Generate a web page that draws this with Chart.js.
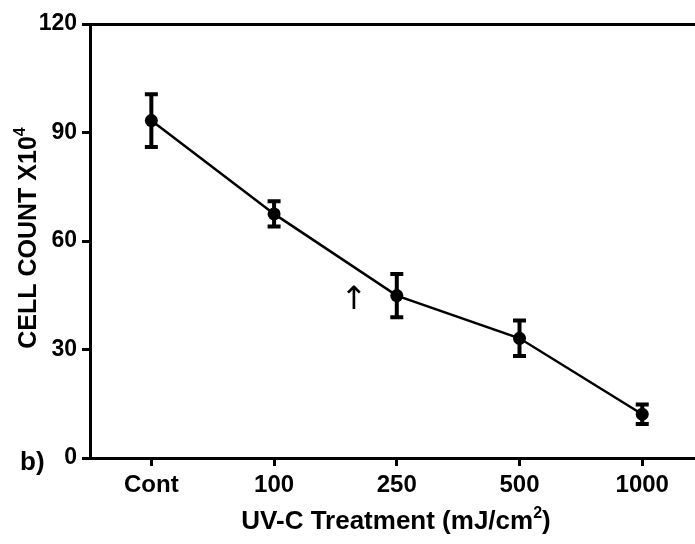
<!DOCTYPE html>
<html>
<head>
<meta charset="utf-8">
<script src="https://cdn.jsdelivr.net/npm/chart.js@4"></script>
<style>
  html, body { margin: 0; padding: 0; background: #fff; overflow: hidden; }
  canvas { display: block; }
</style>
</head>
<body>
<canvas id="cellChart" width="695" height="544"></canvas>
<script>
// UV-C dose groups and mean cell counts (x10^4) with SEM
const doses = ['Cont', '100', '250', '500', '1000'];
const cellCounts = [93.3, 67.5, 44.9, 33.1, 12.1];
const errors = [7.3, 3.5, 6.0, 4.9, 2.7];
const yTicks = [0, 30, 60, 90, 120];

const FONT = '"Liberation Sans", Arial, sans-serif';

// error bars with flat caps, drawn through the chart's own scales
const errorBars = {
  id: 'errorBars',
  afterDatasetsDraw(chart) {
    const { ctx, scales: { x, y } } = chart;
    ctx.save();
    ctx.strokeStyle = '#000';
    ctx.lineWidth = 4;
    cellCounts.forEach((v, i) => {
      const px = x.getPixelForValue(i);
      const top = y.getPixelForValue(v + errors[i]);
      const bot = y.getPixelForValue(v - errors[i]);
      ctx.beginPath();
      ctx.moveTo(px, top);
      ctx.lineTo(px, bot);
      ctx.moveTo(px - 6.5, top);
      ctx.lineTo(px + 6.5, top);
      ctx.moveTo(px - 6.5, bot);
      ctx.lineTo(px + 6.5, bot);
      ctx.stroke();
    });
    ctx.restore();
  }
};

// draws text followed by a raised smaller character, centred on cx
function supText(ctx, main, sup, tail, cx, by, size, supSize, rise) {
  ctx.font = 'bold ' + size + 'px ' + FONT;
  const w1 = ctx.measureText(main).width;
  const w3 = tail ? ctx.measureText(tail).width : 0;
  ctx.font = 'bold ' + supSize + 'px ' + FONT;
  const w2 = ctx.measureText(sup).width;
  const sx = cx - (w1 + w2 + w3) / 2;
  ctx.font = 'bold ' + size + 'px ' + FONT;
  ctx.fillText(main, sx, by);
  if (tail) ctx.fillText(tail, sx + w1 + w2, by);
  ctx.font = 'bold ' + supSize + 'px ' + FONT;
  ctx.fillText(sup, sx + w1, by - rise);
}

// axis titles, the panel letter and the arrow mark
const labels = {
  id: 'labels',
  afterDraw(chart) {
    const { ctx, scales: { x, y } } = chart;
    ctx.save();
    ctx.fillStyle = '#000';
    ctx.textBaseline = 'alphabetic';
    ctx.textAlign = 'left';

    supText(ctx, 'UV-C Treatment (mJ/cm', '2', ')', 396, 529, 26, 16, 11);

    ctx.save();
    ctx.translate(36, 238);
    ctx.rotate(-Math.PI / 2);
    supText(ctx, 'CELL COUNT X10', '4', '', 0, 0, 25, 16, 11);
    ctx.restore();

    ctx.font = 'bold 26px ' + FONT;
    ctx.textBaseline = 'middle';
    ctx.fillText('b)', 20, 463);

    ctx.font = '32px "DejaVu Sans", sans-serif';
    ctx.textAlign = 'center';
    ctx.fillText('\u2191', x.getPixelForValue(1.65), y.getPixelForValue(43.4));
    ctx.restore();
  }
};

new Chart(document.getElementById('cellChart'), {
  type: 'line',
  data: {
    datasets: [{
      data: cellCounts.map((v, i) => ({ x: i, y: v })),
      borderColor: '#000',
      borderWidth: 2.5,
      pointRadius: 6.5,
      pointBackgroundColor: '#000',
      pointBorderColor: '#000',
      pointBorderWidth: 0,
      tension: 0,
      fill: false,
      clip: false
    }]
  },
  options: {
    responsive: false,
    animation: false,
    events: [],
    layout: { autoPadding: false, padding: { top: 24, right: 0, left: 0, bottom: 0 } },
    plugins: {
      legend: { display: false },
      tooltip: { enabled: false }
    },
    scales: {
      x: {
        type: 'linear',
        min: -0.5,
        max: 4.43,
        afterBuildTicks: (scale) => {
          scale.ticks = doses.map((d, i) => ({ value: i }));
        },
        afterFit: (scale) => {
          scale.height = 86;
          scale.paddingLeft = 0;
          scale.paddingRight = 0;
        },
        border: { display: true, color: '#000', width: 3 },
        grid: {
          drawOnChartArea: false,
          drawTicks: true,
          tickLength: 8,
          tickColor: '#000',
          tickWidth: 3
        },
        ticks: {
          color: '#000',
          padding: 5,
          maxRotation: 0,
          font: { family: FONT, size: 24, weight: 'bold' },
          callback: (v) => doses[v]
        }
      },
      y: {
        min: 0,
        max: 120,
        afterBuildTicks: (scale) => {
          scale.ticks = yTicks.map((v) => ({ value: v }));
        },
        afterFit: (scale) => { scale.width = 90; },
        border: { display: true, color: '#000', width: 3 },
        grid: {
          drawOnChartArea: true,
          color: (c) => (c.tick && c.tick.value === 120 ? '#000' : 'rgba(0,0,0,0)'),
          lineWidth: 3,
          drawTicks: true,
          tickLength: 8,
          tickColor: '#000',
          tickWidth: 3
        },
        ticks: {
          color: '#000',
          padding: 5,
          font: { family: FONT, size: 23, weight: 'bold' }
        }
      }
    }
  },
  plugins: [errorBars, labels]
});
</script>
</body>
</html>
